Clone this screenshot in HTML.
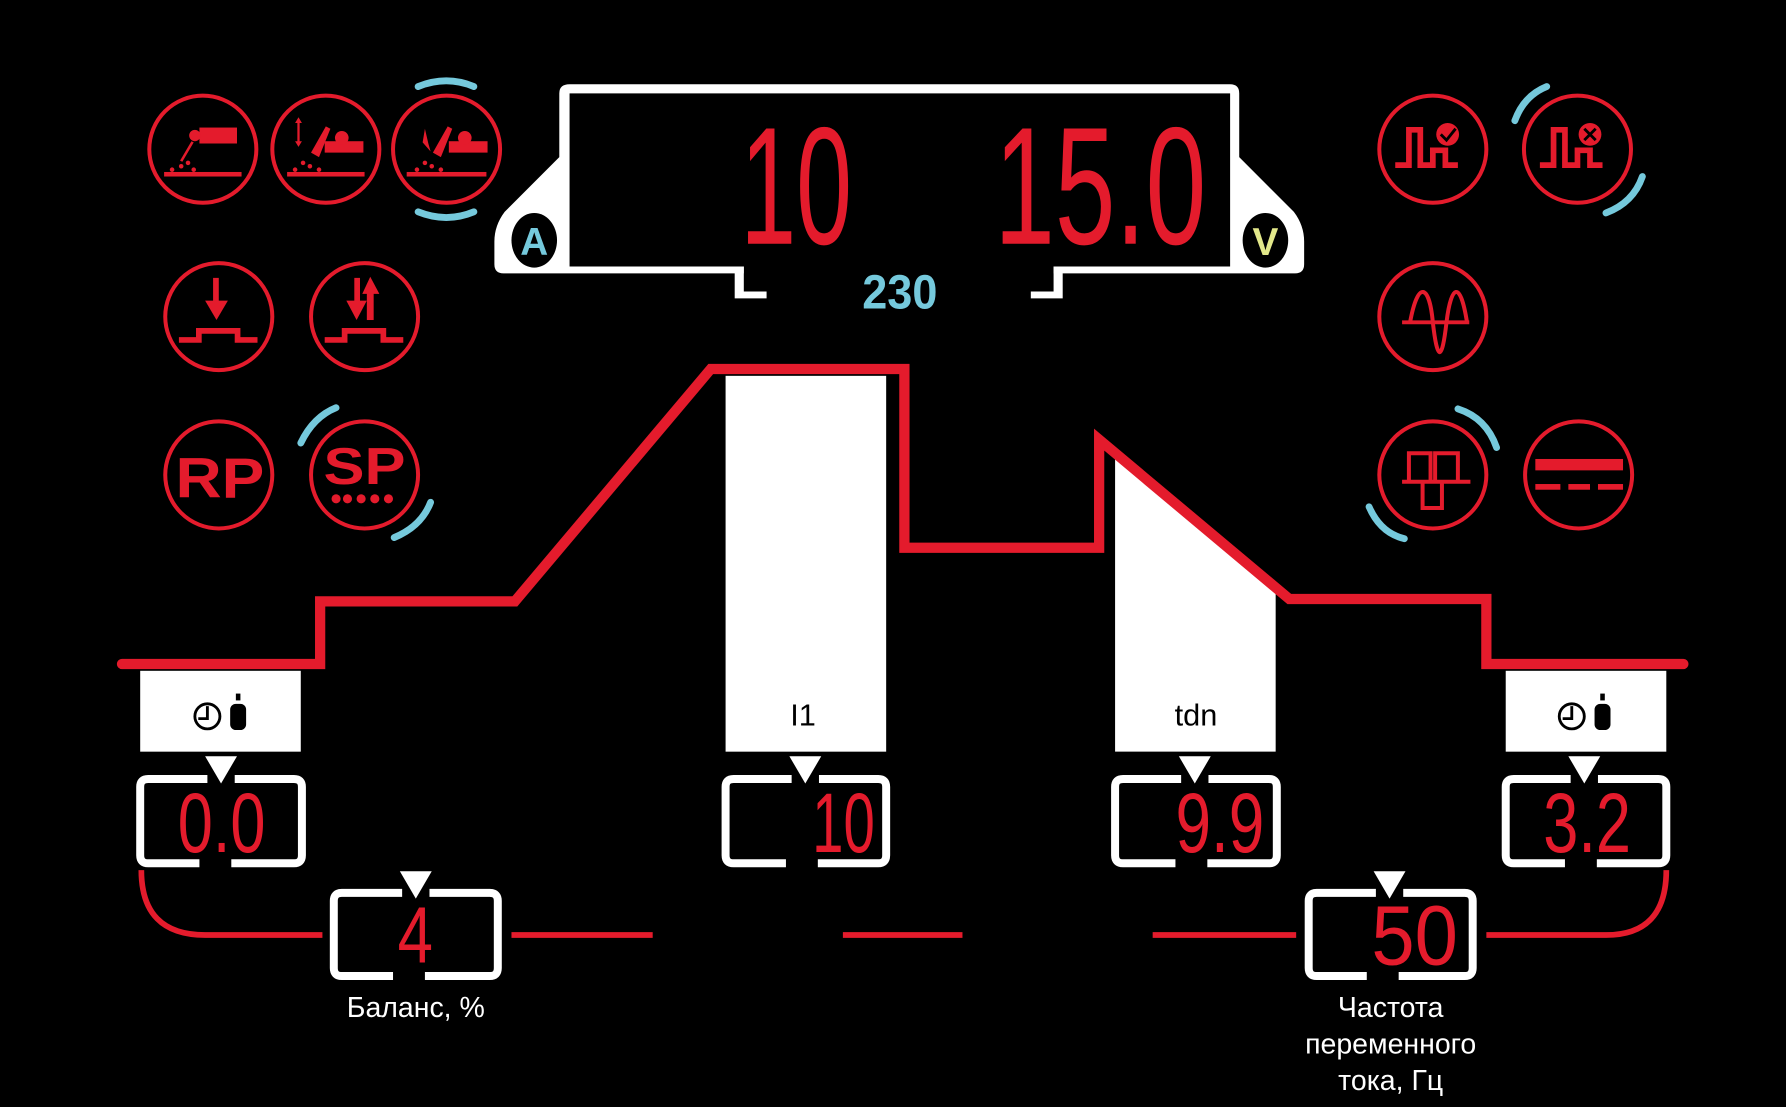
<!DOCTYPE html>
<html><head><meta charset="utf-8"><style>
html,body{margin:0;padding:0;background:#000;}
svg{display:block;}
.seg{font-family:"Liberation Sans Narrow","Liberation Sans",sans-serif;fill:#e41b2c;}
</style></head><body>
<svg width="1786" height="1107" viewBox="0 0 1568 972" xmlns="http://www.w3.org/2000/svg">
<rect width="1568" height="972" fill="#000"/>
<g fill="none" stroke="#e41b2c" stroke-width="3.5">
<circle cx="178" cy="131" r="47"/><circle cx="286" cy="131" r="47"/><circle cx="392" cy="131" r="47"/>
<circle cx="192" cy="278" r="47"/><circle cx="320" cy="278" r="47"/>
<circle cx="192" cy="417" r="47"/><circle cx="320" cy="417" r="47"/>
<circle cx="1258" cy="131" r="47"/><circle cx="1385" cy="131" r="47"/>
<circle cx="1258" cy="278" r="47"/>
<circle cx="1258" cy="417" r="47"/><circle cx="1386" cy="417" r="47"/>
</g>
<g fill="none" stroke="#75c9dc" stroke-width="6" stroke-linecap="round">
<path d="M367 76 Q392 66 416 76"/><path d="M367 186 Q392 196 416 186"/>
<path d="M264 389 Q275 366 295 358"/><path d="M346 472 Q370 462 378 441"/>
<path d="M1330 106 Q1338 84 1358 76"/><path d="M1410 187 Q1434 178 1442 155"/>
<path d="M1280 359 Q1305 367 1314 393"/><path d="M1202 445 Q1212 468 1233 473"/>
</g>
<g fill="#e41b2c">
<rect x="144" y="151" width="68" height="4"/><rect x="175" y="112" width="33" height="14"/><circle cx="171" cy="119" r="5"/>
<path d="M168 124 L158 141 L160 142 L170 125Z"/>
<circle cx="165" cy="143" r="2"/><circle cx="159" cy="146" r="2"/><circle cx="170" cy="149" r="2"/><circle cx="151" cy="149" r="2"/>
<rect x="252" y="151" width="68" height="4"/><rect x="285" y="124" width="34" height="10"/><circle cx="300" cy="121" r="6"/>
<path d="M273 134 L286 111 L290 113 L280 138Z"/><path d="M262 103 L259 108 H261 V124 H259 L262 129 L265 124 H263 V108 H265Z"/>
<circle cx="266" cy="143" r="2"/><circle cx="272" cy="146" r="2"/><circle cx="259" cy="149" r="2"/><circle cx="280" cy="149" r="2"/>
<rect x="357" y="151" width="70" height="4"/><rect x="394" y="124" width="34" height="10"/><circle cx="408" cy="121" r="6"/>
<path d="M380 134 L393 111 L397 113 L387 138Z"/><path d="M373 113 L371 125 L378 133 L376 126Z"/>
<circle cx="373" cy="143" r="2"/><circle cx="379" cy="146" r="2"/><circle cx="366" cy="149" r="2"/><circle cx="387" cy="149" r="2"/>
<rect x="187" y="244" width="5" height="22"/><path d="M180 264 L200 264 L190 281Z"/>
<path d="M157 301 L177 301 L177 293 L206 293 L206 301 L226 301 L226 296 L211 296 L211 288 L172 288 L172 296 L157 296Z"/>
<rect x="311" y="244" width="5" height="22"/><path d="M304 264 L322 264 L313 281Z"/>
<rect x="322" y="255" width="6" height="26"/><path d="M318 258 L325 243 L333 258Z"/>
<path d="M285 301 L305 301 L305 293 L334 293 L334 301 L354 301 L354 296 L339 296 L339 288 L300 288 L300 296 L285 296Z"/>
</g>
<text x="193" y="437" text-anchor="middle" font-family="Liberation Sans,sans-serif" font-weight="bold" font-size="50" fill="#e41b2c" textLength="78" lengthAdjust="spacingAndGlyphs">RP</text>
<text x="320" y="425" text-anchor="middle" font-family="Liberation Sans,sans-serif" font-weight="bold" font-size="46" fill="#e41b2c" textLength="72" lengthAdjust="spacingAndGlyphs">SP</text>
<g fill="#e41b2c"><circle cx="305" cy="438" r="4"/><circle cx="317" cy="438" r="4"/><circle cx="329" cy="438" r="4"/><circle cx="341" cy="438" r="4"/><circle cx="295" cy="438" r="4"/></g>
<g fill="none" stroke="#e41b2c" stroke-width="5">
<path d="M1225 145 H1237 V114 H1247 V145 H1258 V132 H1269 V145 H1280"/>
<path d="M1352 145 H1364 V114 H1374 V145 H1385 V132 H1396 V145 H1407"/>
</g>
<circle cx="1271" cy="118" r="10" fill="#e41b2c"/><path d="M1265 118 L1270 123 L1278 113" stroke="#000" stroke-width="2.5" fill="none"/>
<circle cx="1396" cy="118" r="10" fill="#e41b2c"/><path d="M1391 113 L1401 123 M1401 113 L1391 123" stroke="#000" stroke-width="2.5" fill="none"/>
<g fill="none" stroke="#e41b2c" stroke-width="3.5">
<path d="M1231 283 H1290"/>
<path d="M1238 283 C1245 245 1255 250 1258 283 C1262 318 1266 318 1270 283 C1274 250 1282 245 1288 283"/>
<path d="M1231 445 H1291 M1237 445 V420 H1256 V445 M1260 445 V420 H1280 V445 M1249 445 V468 H1266 V445" transform="translate(0,-22)"/>
</g>
<g fill="#e41b2c"><rect x="1348" y="403" width="77" height="10"/><rect x="1348" y="425" width="22" height="5"/><rect x="1377" y="425" width="19" height="5"/><rect x="1403" y="425" width="22" height="5"/></g>
<!-- display -->
<path d="M500 74 H1080 Q1088 74 1088 82 V138 L1136 186 Q1145 198 1145 212 V232 Q1145 240 1137 240 H442 Q434 240 434 232 V212 Q434 198 443 186 L491 138 V82 Q491 74 500 74Z" fill="#fff"/>
<rect x="500" y="82" width="580" height="152" fill="#000"/>
<rect x="653" y="233" width="272" height="9" fill="#000"/>
<path d="M645 234 H653 V256 H673 V262 H645Z" fill="#fff"/><path d="M925 234 H933 V262 H905 V256 H925Z" fill="#fff"/>
<ellipse cx="469" cy="211" rx="20" ry="24" fill="#000"/>
<text x="469" y="224" text-anchor="middle" font-family="Liberation Sans,sans-serif" font-weight="bold" font-size="34" fill="#75c9dc">A</text>
<ellipse cx="1111" cy="211" rx="20" ry="24" fill="#000"/>
<text x="1111" y="224" text-anchor="middle" font-family="Liberation Sans,sans-serif" font-weight="bold" font-size="34" fill="#e3e88a">V</text>
<text x="790" y="271" text-anchor="middle" font-family="Liberation Sans Narrow,Liberation Sans,sans-serif" font-weight="bold" font-size="42" fill="#75c9dc" textLength="66" lengthAdjust="spacingAndGlyphs">230</text>
<text class="seg" x="650" y="214" font-size="147" textLength="98" lengthAdjust="spacingAndGlyphs">10</text>
<text class="seg" x="873" y="214" font-size="147" textLength="186" lengthAdjust="spacingAndGlyphs">15.0</text>
<rect x="637" y="330" width="141" height="330" fill="#fff"/>
<path d="M979 400 L1120 516 V660 H979Z" fill="#fff"/>
<rect x="123" y="589" width="141" height="71" fill="#fff"/>
<rect x="1322" y="589" width="141" height="71" fill="#fff"/>
<path d="M107 583 H281 V528 H452 L624 324 H794 V481 H965 V386 L1132 526 H1305 V583 H1478" fill="none" stroke="#e41b2c" stroke-width="9" stroke-linejoin="miter" stroke-linecap="round"/>
<text x="705" y="637" text-anchor="middle" font-family="Liberation Sans,sans-serif" font-size="27" fill="#000">I1</text>
<text x="1050" y="637" text-anchor="middle" font-family="Liberation Sans,sans-serif" font-size="27" fill="#000">tdn</text>
<g stroke="#000" stroke-width="2.5" fill="none"><circle cx="182" cy="629" r="11"/><path d="M182 620 V631 H174"/><circle cx="1380" cy="629" r="11"/><path d="M1380 620 V631 H1372"/></g>
<g fill="#000"><rect x="202" y="618" width="14" height="23" rx="5"/><rect x="207" y="609" width="4" height="6"/><rect x="1400" y="618" width="14" height="23" rx="5"/><rect x="1405" y="609" width="4" height="6"/></g>
<g fill="none" stroke="#fff" stroke-width="7">
<path d="M182 684 H130 Q123 684 123 691 V751 Q123 758 130 758 H175 M203 758 H258 Q265 758 265 751 V691 Q265 684 258 684 H206"/>
<path d="M695 684 H644 Q637 684 637 691 V751 Q637 758 644 758 H690 M718 758 H771 Q778 758 778 751 V691 Q778 684 771 684 H719"/>
<path d="M1037 684 H986 Q979 684 979 691 V751 Q979 758 986 758 H1032 M1060 758 H1114 Q1121 758 1121 751 V691 Q1121 684 1114 684 H1061"/>
<path d="M1379 684 H1329 Q1322 684 1322 691 V751 Q1322 758 1329 758 H1374 M1402 758 H1456 Q1463 758 1463 751 V691 Q1463 684 1456 684 H1403"/>
<path d="M353 784 H300 Q293 784 293 791 V850 Q293 857 300 857 H345 M373 857 H430 Q437 857 437 850 V791 Q437 784 430 784 H377"/>
<path d="M1208 784 H1156 Q1149 784 1149 791 V850 Q1149 857 1156 857 H1200 M1228 857 H1286 Q1293 857 1293 850 V791 Q1293 784 1286 784 H1232"/>
</g>
<g fill="#fff">
<path d="M180 664 H208 L194 688Z"/><path d="M693 664 H721 L707 688Z"/><path d="M1035 664 H1063 L1049 688Z"/><path d="M1377 664 H1405 L1391 688Z"/>
<path d="M351 765 H379 L365 789Z"/><path d="M1206 765 H1234 L1220 789Z"/>
</g>
<text class="seg" x="156" y="748" font-size="74" textLength="77" lengthAdjust="spacingAndGlyphs">0.0</text>
<text class="seg" x="713" y="748" font-size="74" textLength="55" lengthAdjust="spacingAndGlyphs">10</text>
<text class="seg" x="1032" y="748" font-size="74" textLength="78" lengthAdjust="spacingAndGlyphs">9.9</text>
<text class="seg" x="1355" y="748" font-size="74" textLength="77" lengthAdjust="spacingAndGlyphs">3.2</text>
<text class="seg" x="349" y="845" font-size="70" textLength="31" lengthAdjust="spacingAndGlyphs">4</text>
<text class="seg" x="1204" y="847" font-size="74" textLength="76" lengthAdjust="spacingAndGlyphs">50</text>
<g fill="none" stroke="#e41b2c" stroke-width="5">
<path d="M124 764 Q124 821 180 821 H283"/><path d="M449 821 H573"/><path d="M740 821 H845"/><path d="M1012 821 H1138"/>
<path d="M1305 821 H1410 Q1463 821 1463 764"/>
</g>
<g font-family="Liberation Sans Narrow,Liberation Sans,sans-serif" font-size="25" fill="#fff" text-anchor="middle">
<text x="365" y="893">Баланс, %</text>
<text x="1221" y="893">Частота</text>
<text x="1221" y="925">переменного</text>
<text x="1221" y="957">тока, Гц</text>
</g>
</svg>
</body></html>
